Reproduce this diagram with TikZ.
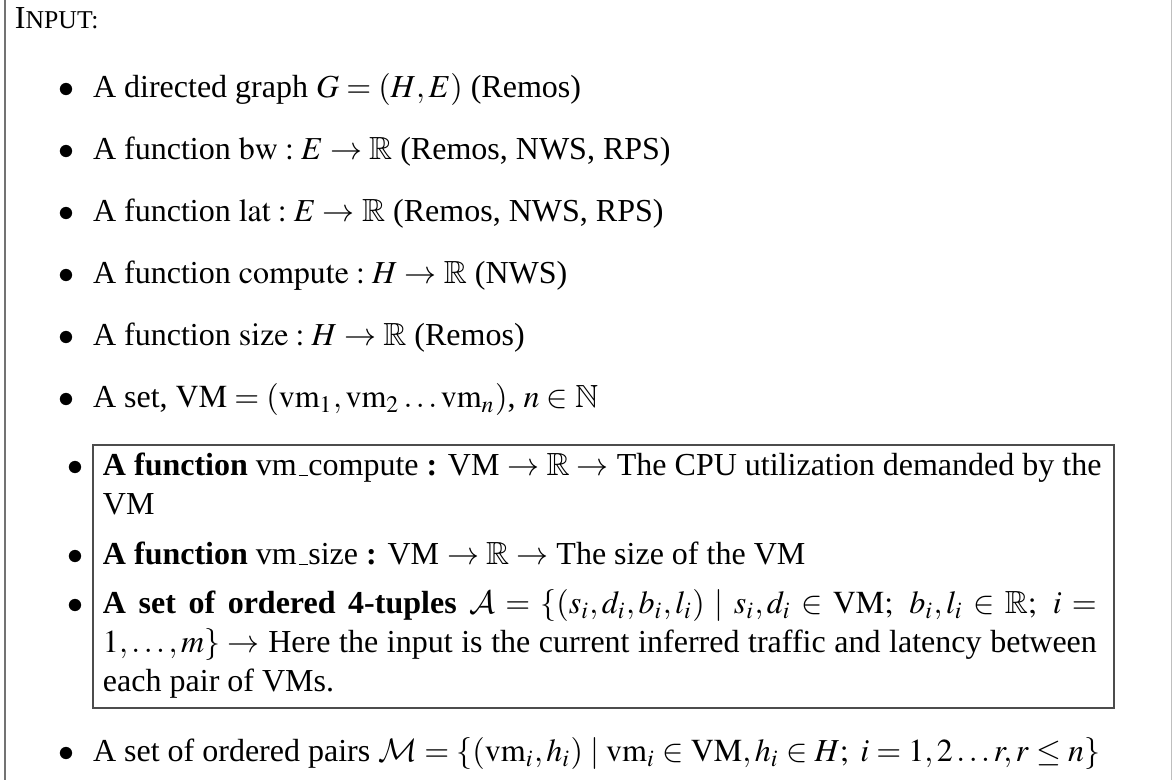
\documentclass[tikz,border=0pt]{standalone}
\usepackage{mathptmx}
\usepackage{amssymb}
\usepackage{fontspec}
\setmainfont{Liberation Serif}
% calligraphic letters from Computer Modern
\DeclareMathAlphabet{\mathcal}{OMS}{cmsy}{m}{n}

\tikzset{
  txt/.style={inner sep=0pt, outer sep=0pt, anchor=base west},
  bul/.style={inner sep=0pt, outer sep=0pt, anchor=base},
  frameline/.style={draw=black!70, line width=0.4pt},
}
\newcommand{\bulletmark}{$\bullet$}
\newcommand{\usc}{\leavevmode\kern.06em\vbox{\hrule width.3em}}
\newcommand{\fullline}[1]{\makebox[305.8pt][s]{#1}}

\begin{document}
\begin{tikzpicture}[x=0.30769pt, y=-0.30769pt,
  every node/.append style={font=\fontsize{9.85}{12}\selectfont}]
\useasboundingbox (0,0) rectangle (1172,780);

% side rules of the surrounding frame
\coordinate (lt) at (5,0);
\coordinate (lb) at (5,780);
\coordinate (rt) at (1171.5,0);
\coordinate (rb) at (1171.5,780);
\draw[black!55, line width=0.6pt] (lt) -- (lb);
\draw[black!25, line width=0.4pt] (rt) -- (rb);

% heading
\node[txt] (title) at (15,29) {I{\fontsize{7.9}{10}\selectfont NPUT:}};

% plain items
\node[bul] (d1) at (67,98)  {\bulletmark};
\node[txt] (t1) at (93,98)  {A directed graph $G=(H,E)$ (Remos)};
\node[bul] (d2) at (67,160) {\bulletmark};
\node[txt] (t2) at (93,160) {A function $\mathrm{bw}:E\rightarrow\mathbb{R}$ (Remos, NWS, RPS)};
\node[bul] (d3) at (67,222) {\bulletmark};
\node[txt] (t3) at (93,222) {A function $\mathrm{lat}:E\rightarrow\mathbb{R}$ (Remos, NWS, RPS)};
\node[bul] (d4) at (67,284) {\bulletmark};
\node[txt] (t4) at (93,284) {A function $\mathrm{compute}:H\rightarrow\mathbb{R}$ (NWS)};
\node[bul] (d5) at (67,346) {\bulletmark};
\node[txt] (t5) at (93,346) {A function $\mathrm{size}:H\rightarrow\mathbb{R}$ (Remos)};
\node[bul] (d6) at (67,408) {\bulletmark};
\node[txt] (t6) at (93,408) {A set, $\mathrm{VM}=(\mathrm{vm}_1,\mathrm{vm}_2\ldots\mathrm{vm}_n)$, $n\in\mathbb{N}$};

% framed group of items
\draw[frameline] (93,445) rectangle (1114,708);
\node[bul] (d7) at (76,476) {\bulletmark};
\node[txt] (t7a) at (103,476) {\textbf{A function} vm\usc compute \textbf{:} VM $\rightarrow\mathbb{R}\rightarrow$ The CPU utilization demanded by the};
\node[txt] (t7b) at (103,515) {VM};
\node[bul] (d8) at (76,565) {\bulletmark};
\node[txt] (t8) at (103,565) {\textbf{A function} vm\usc size \textbf{:} VM $\rightarrow\mathbb{R}\rightarrow$ The size of the VM};
\node[bul] (d9) at (76,614) {\bulletmark};
\node[txt] (t9a) at (103,614) {\fullline{\textbf{A set of ordered 4-tuples} $\mathcal{A}=\{(s_i,d_i,b_i,l_i)\mid s_i,d_i\in\mathrm{VM};\ b_i,l_i\in\mathbb{R};\ i=$}};
\node[txt] (t9b) at (103,653) {\fullline{$1,\ldots,m\}\rightarrow$ Here the input is the current inferred traffic and latency between}};
\node[txt] (t9c) at (103,692) {each pair of VMs.};

% last item
\node[bul] (d10) at (67,762) {\bulletmark};
\node[txt] (t10) at (93,762) {A set of ordered pairs $\mathcal{M}=\{(\mathrm{vm}_i,h_i)\mid\mathrm{vm}_i\in\mathrm{VM},h_i\in H;\ i=1,2\ldots r,r\leq n\}$};
\end{tikzpicture}
\end{document}
